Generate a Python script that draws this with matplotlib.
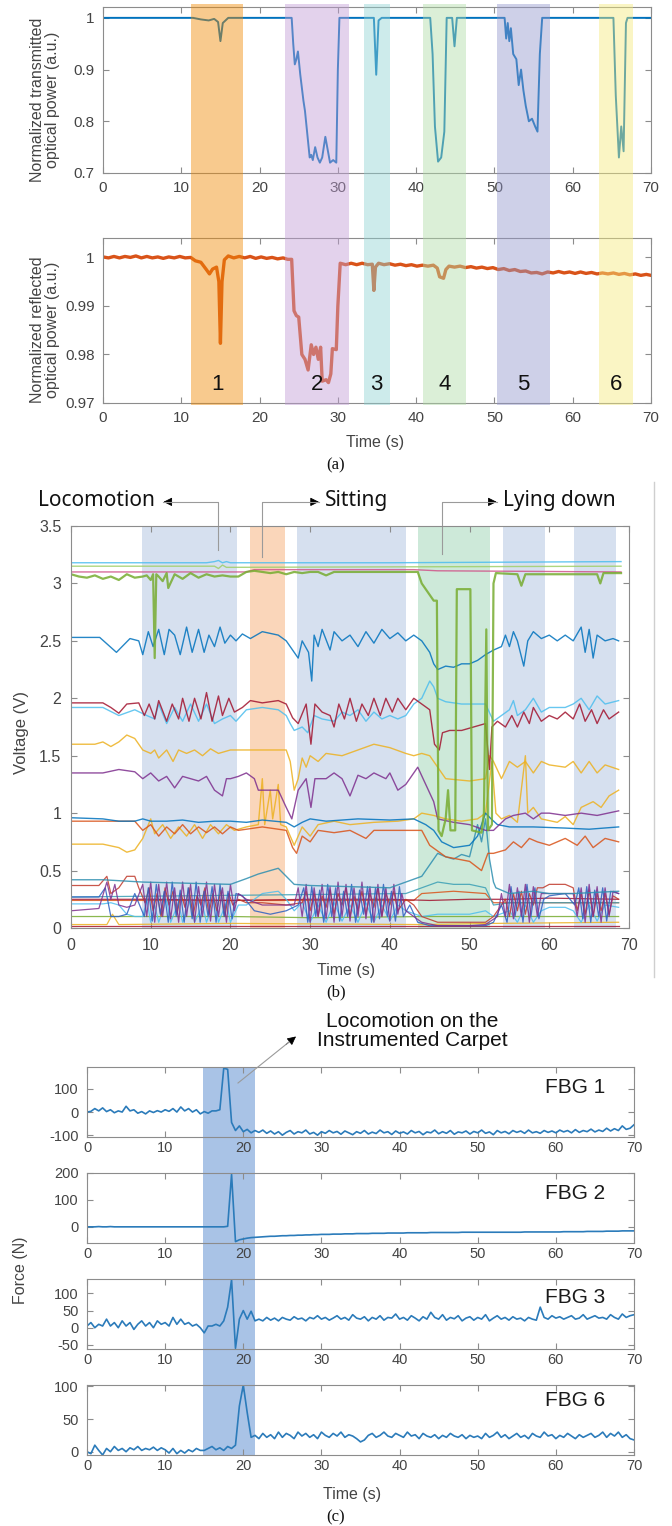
import numpy as np
import matplotlib
matplotlib.use('Agg')
import matplotlib.pyplot as plt
from matplotlib.lines import Line2D
from matplotlib.patches import Rectangle, FancyArrowPatch
from matplotlib.ticker import FuncFormatter
import matplotlib.transforms as mtrans

# ---------------- panel (a) data ----------------
a_bands = [(11.3, 17.9), (23.3, 31.4), (33.3, 36.6), (40.9, 46.4), (50.3, 57.1), (63.4, 67.7)]
a_band_colors = ['#F08B04', '#C19DD5', '#90D3D3', '#B1DCA8', '#9497CC', '#F5EB7C']
a_band_labels = ['1', '2', '3', '4', '5', '6']

trans_time = [0, 11.5, 12.5, 13.5, 14.2, 14.7, 15.0, 15.3, 16.0,
              24.1, 24.3, 24.5, 24.7, 24.9, 25.2, 25.6, 25.8, 26.2, 26.4, 26.6, 26.8, 27.1, 27.4,
              27.7, 28.0, 28.4, 28.7, 29.0, 29.4, 29.8, 30.0, 30.2,
              34.6, 34.9, 35.2, 35.6, 41.8, 42.1, 42.4, 42.8, 43.2, 43.6, 43.9, 44.6, 44.9, 45.2,
              51.3, 51.5, 51.7, 51.9, 52.1, 52.4, 52.8, 53.1, 53.4, 53.7, 54.0, 54.4, 54.8, 55.2,
              55.5, 55.8, 56.1, 65.2, 65.5, 65.9, 66.2, 66.5, 66.8, 67.0, 70]
trans_power = [1.0, 1.0, 0.997, 0.995, 0.998, 0.992, 0.955, 0.99, 1.0,
               1.0, 0.95, 0.91, 0.92, 0.935, 0.89, 0.84, 0.82, 0.76, 0.73, 0.735, 0.725, 0.75, 0.73,
               0.72, 0.73, 0.77, 0.745, 0.72, 0.725, 0.72, 0.90, 1.0,
               1.0, 0.89, 0.995, 1.0, 1.0, 0.93, 0.79, 0.722, 0.73, 0.78, 1.0, 1.0, 0.945, 1.0,
               1.0, 0.96, 0.99, 0.955, 0.98, 0.93, 0.92, 0.87, 0.90, 0.86, 0.83, 0.80, 0.805, 0.79,
               0.78, 0.93, 1.0, 1.0, 0.85, 0.73, 0.79, 0.742, 0.99, 1.0, 1.0]

refl_time = [0, 0.7, 1.4, 2.1, 2.8, 3.5, 4.2, 4.9, 5.6, 6.3, 7.0, 7.7, 8.4, 9.1, 9.8, 10.5, 11.2,
             11.8, 12.5, 13.2, 13.6, 14.0, 14.5, 14.8, 15.0, 15.2, 15.5, 16.0, 16.7, 17.4, 18.1,
             18.8, 19.5, 20.2, 20.9, 21.6, 22.3, 23.0, 23.6, 24.1, 24.4, 24.7, 25.0, 25.4, 25.8,
             26.2, 26.6, 26.9, 27.2, 27.5, 27.8, 28.0, 28.5, 28.8, 29.1, 29.3, 29.8, 30.0, 30.3,
             31.0, 31.7, 32.4, 33.1, 33.8, 34.4, 34.6, 34.8, 35.2, 35.9, 36.6, 37.3, 38.0, 38.7,
             39.4, 40.1, 40.8, 41.5, 42.2, 42.7, 43.0, 43.5, 43.8, 44.2, 44.9, 45.6, 46.3, 47.0,
             47.7, 48.4, 49.1, 49.8, 50.5, 51.2, 51.9, 52.6, 53.3, 54.0, 54.7, 55.4, 56.1, 56.8,
             57.5, 58.2, 58.9, 59.6, 60.3, 61.0, 61.7, 62.4, 63.1, 63.8, 64.5, 65.2, 65.9, 66.6,
             67.3, 68.0, 68.7, 69.4, 70]
refl_power = [1.0001, 0.9999, 1.0002, 0.9999, 1.0002, 1.0000, 1.0003, 0.9999, 1.0002, 0.9999,
              1.0001, 0.9998, 1.0001, 0.9999, 1.0002, 0.9999, 1.0000,
              0.9993, 0.9990, 0.9975, 0.9966, 0.9976, 0.9980, 0.9950, 0.9823, 0.9950, 0.9995,
              1.0003, 0.9999, 1.0002, 0.9999, 1.0002, 0.9998, 1.0001, 0.9998, 1.0000, 0.9997,
              0.9999, 0.9996, 0.9996, 0.9890, 0.9880, 0.9877, 0.9800, 0.9790, 0.9768, 0.9820,
              0.9800, 0.9815, 0.9790, 0.9815, 0.9745, 0.9748, 0.9742, 0.9760, 0.9812, 0.9810,
              0.9900, 0.9988, 0.9985, 0.9988, 0.9985, 0.9988, 0.9985, 0.9986, 0.9932, 0.9980,
              0.9988, 0.9985, 0.9987, 0.9984, 0.9986, 0.9983, 0.9985, 0.9982, 0.9984, 0.9982,
              0.9984, 0.9978, 0.9960, 0.9957, 0.9975, 0.9982, 0.9980, 0.9982, 0.9979, 0.9981,
              0.9978, 0.9980, 0.9977, 0.9979, 0.9975, 0.9977, 0.9973, 0.9975, 0.9971, 0.9972,
              0.9968, 0.9969, 0.9966, 0.9970, 0.9968, 0.9971, 0.9968, 0.9970, 0.9967, 0.9970,
              0.9967, 0.9969, 0.9966, 0.9968, 0.9966, 0.9968, 0.9965, 0.9967, 0.9964, 0.9966,
              0.9963, 0.9965, 0.9963]

# ---------------- panel (b) data ----------------
b_bands = [(8.9, 20.8), (22.4, 26.8), (28.4, 42.0), (43.5, 52.6), (54.2, 59.4), (63.1, 68.4)]
b_band_colors = ['#d6e0ef', '#fad6ba', '#d6e0ef', '#cde9d9', '#d6e0ef', '#d6e0ef']

cyan_top_t = [0, 17, 18, 18.5, 19, 19.5, 20, 40, 69]
cyan_top_v = [3.18, 3.18, 3.19, 3.2, 3.18, 3.19, 3.18, 3.18, 3.19]
green_top_t = [0, 18, 18.5, 19, 19.5, 69]
green_top_v = [3.15, 3.15, 3.13, 3.16, 3.14, 3.15]
pink_top_t = [0, 22, 23, 43, 46, 69]
pink_top_v = [3.1, 3.1, 3.12, 3.12, 3.11, 3.1]

green_t = [0, 1, 2, 3, 4, 5, 6, 7, 8, 9, 9.5, 10, 10.3, 10.5, 10.7, 11, 11.5, 12, 12.2, 13, 14,
           15, 16, 17, 18, 19, 20, 21, 22, 23, 24, 25, 26, 27, 28, 29, 30, 31, 32, 33, 34, 36,
           38, 40, 43.5, 44, 44.5, 45.5, 45.9, 46.1, 46.5, 47, 47.3, 47.6, 48.2, 48.4, 50.1,
           50.3, 51.5, 51.8, 52.1, 52.3, 52.8, 53.0, 53.3, 56, 56.5, 57, 66, 66.4, 66.8, 69]
green_v = [3.08, 3.06, 3.05, 3.07, 3.04, 3.06, 3.03, 3.08, 3.05, 3.06, 3.07, 3.03, 3.08, 2.35,
           3.08, 3.06, 3.02, 3.09, 2.96, 3.08, 3.04, 3.09, 3.05, 3.08, 3.06, 3.07, 3.06, 3.06,
           3.1, 3.11, 3.1, 3.09, 3.1, 3.08, 3.1, 3.09, 3.1, 3.1, 3.07, 3.1, 3.1, 3.1, 3.1,
           3.1, 3.1, 3.0, 2.95, 2.85, 2.85, 0.85, 0.8, 0.95, 1.2, 0.85, 0.85, 2.95, 2.95, 0.85,
           0.83, 1.0, 2.6, 0.85, 0.9, 3.0, 3.09, 3.08, 2.98, 3.08, 3.08, 3.0, 3.09, 3.09]

blue25_t = [0, 3.6, 5.7, 7.4, 8.5, 9, 9.7, 10.3, 11, 11.7, 12.3, 13, 13.7, 14.5, 15.2, 16, 16.7,
            17.3, 18, 18.7, 19.3, 20, 20.7, 21.5, 22.5, 24, 26, 27, 28, 28.5, 29, 29.8, 30.2,
            30.5, 31, 31.5, 32.5, 33, 34, 35, 36, 37, 38, 39, 40, 41, 42, 43, 44, 45, 45.5, 46,
            47, 48, 49, 50, 51, 52, 53, 54, 54.5, 55, 55.5, 56, 56.8, 57.3, 58, 59, 60, 61, 62,
            63, 64, 64.5, 65, 65.5, 66, 67, 68, 68.7]
blue25_v = [2.53, 2.53, 2.40, 2.52, 2.5, 2.38, 2.58, 2.45, 2.6, 2.38, 2.6, 2.55, 2.38, 2.62,
            2.4, 2.6, 2.4, 2.55, 2.45, 2.62, 2.48, 2.55, 2.5, 2.56, 2.52, 2.58, 2.55, 2.5, 2.4,
            2.35, 2.5, 2.4, 2.15, 2.55, 2.45, 2.6, 2.42, 2.58, 2.5, 2.55, 2.45, 2.58, 2.48, 2.6,
            2.52, 2.57, 2.5, 2.55, 2.5, 2.4, 2.3, 2.25, 2.28, 2.27, 2.3, 2.3, 2.33, 2.38, 2.42,
            2.45, 2.55, 2.45, 2.58, 2.5, 2.28, 2.5, 2.58, 2.52, 2.55, 2.5, 2.55, 2.5, 2.62, 2.4,
            2.6, 2.35, 2.55, 2.5, 2.52, 2.5]

red19_t = [0, 4, 5, 6, 7, 8.5, 9.2, 9.8, 10.5, 11, 12, 12.7, 13.5, 14, 14.8, 15.5, 16.3, 17,
           17.7, 18.5, 19, 19.8, 20.5, 21.5, 22.5, 24, 26, 27, 27.8, 28.5, 29.5, 30.1, 30.6,
           31.5, 32.5, 33, 33.6, 34.3, 35, 35.8, 36.5, 37.3, 38, 38.8, 39.5, 40.3, 41, 42, 43,
           44, 45, 45.6, 46.2, 46.6, 47.5, 49, 50.5, 52, 52.5, 52.8, 53.5, 54.5, 55.3, 56, 56.8,
           57.5, 58, 59, 60, 61, 62, 63, 63.8, 64.5, 65.3, 66, 66.8, 67.5, 68.7]
red19_v = [1.96, 1.96, 1.92, 1.87, 1.95, 1.96, 1.85, 1.95, 1.82, 1.98, 1.8, 1.95, 1.82, 2.0,
           1.8, 2.0, 1.82, 2.05, 1.8, 2.02, 1.85, 2.0, 1.88, 1.92, 1.98, 1.96, 1.98, 1.95, 1.83,
           1.78, 1.95, 1.6, 1.95, 1.88, 1.85, 1.75, 1.95, 1.82, 2.0, 1.8, 1.95, 1.85, 2.0, 1.85,
           2.0, 1.88, 2.0, 1.9, 2.0, 1.95, 1.9, 1.6, 1.55, 1.7, 1.72, 1.72, 1.75, 1.78, 1.38,
           1.75, 1.8, 1.75, 1.85, 1.75, 1.88, 1.78, 1.92, 1.8, 1.85, 1.82, 1.88, 1.82, 1.95,
           1.8, 1.9, 1.78, 1.9, 1.82, 1.88]

cyan19_t = [0, 4, 6, 8, 9.5, 10.5, 11, 12, 13, 14, 15, 16, 17, 18, 19, 20, 20.7, 22, 24, 26,
            27, 27.5, 28, 29, 29.7, 30.5, 31.5, 33, 34, 35, 36, 37, 38, 39, 40, 41, 42, 43, 44,
            45, 45.5, 46, 47, 49, 51, 52, 53, 54, 55, 55.5, 56, 57, 58, 59, 60, 62, 63, 64, 65,
            66, 67, 68.7]
cyan19_v = [1.92, 1.92, 1.85, 1.9, 1.85, 1.82, 1.95, 1.78, 1.92, 1.8, 1.95, 1.8, 1.95, 1.78,
            1.82, 1.85, 1.8, 1.9, 1.92, 1.9, 1.85, 1.78, 1.72, 1.75, 1.7, 1.85, 1.82, 1.8, 1.88,
            1.85, 1.9, 1.8, 1.88, 1.82, 1.85, 1.82, 1.85, 1.95, 2.0, 2.15, 2.1, 2.0, 1.97, 1.95,
            1.95, 1.95, 1.8, 1.85, 1.9, 1.98, 1.85, 1.9, 2.0, 1.88, 1.92, 1.92, 1.95, 2.0, 1.9,
            2.02, 1.95, 1.98]

yellow16_t = [0, 3, 4, 5, 6, 7, 8, 9, 10, 10.5, 11, 12, 12.8, 13.5, 14.5, 15.5, 16.5, 17.5,
              18.5, 20, 22, 25, 27, 27.5, 28, 28.5, 29, 29.5, 30, 31, 32, 34, 36, 38, 40, 42,
              43, 44, 45, 46, 47, 50, 52, 52.5, 53, 54, 55, 56, 57, 58, 59, 60, 62, 63, 64, 65,
              66, 67, 68.7]
yellow16_v = [1.6, 1.6, 1.62, 1.58, 1.62, 1.68, 1.65, 1.55, 1.52, 1.55, 1.48, 1.55, 1.45, 1.55,
              1.52, 1.55, 1.5, 1.56, 1.52, 1.55, 1.55, 1.55, 1.55, 1.45, 1.2, 1.3, 1.48, 1.4,
              1.5, 1.45, 1.52, 1.5, 1.55, 1.6, 1.57, 1.52, 1.5, 1.52, 1.5, 1.4, 1.3, 1.28, 1.3,
              1.5, 1.45, 1.3, 1.45, 1.4, 1.45, 1.35, 1.45, 1.42, 1.4, 1.45, 1.35, 1.45, 1.35,
              1.42, 1.38]

purple13_t = [0, 4, 6, 8, 9, 10, 11, 12, 13, 14, 15, 16, 17, 18, 19, 19.5, 20, 21, 22, 23,
              23.5, 26, 27, 27.7, 28.5, 29.5, 30.1, 30.6, 32, 33, 34, 35, 36, 37, 38, 39.5, 40,
              41, 42, 43, 43.5, 44.5, 45.5, 46, 48, 50, 52, 53, 54.5, 55.5, 57, 58, 59, 60, 62,
              64, 66, 68.7]
purple13_v = [1.35, 1.35, 1.38, 1.36, 1.3, 1.35, 1.28, 1.32, 1.22, 1.32, 1.3, 1.28, 1.32, 1.2,
              1.15, 1.3, 1.3, 1.32, 1.35, 1.3, 1.2, 1.2, 1.05, 0.95, 1.2, 1.3, 1.05, 1.3, 1.3,
              1.35, 1.3, 1.15, 1.33, 1.3, 1.35, 1.3, 1.35, 1.2, 1.25, 1.35, 1.4, 1.25, 1.1, 0.95,
              0.92, 0.9, 0.85, 0.85, 0.95, 0.98, 1.0, 0.95, 1.0, 1.0, 0.98, 1.0, 0.98, 1.02]

blue09_t = [0, 4, 6, 8, 9, 10, 12, 14, 16, 18, 20, 22, 24, 27, 28, 29, 30, 32, 36, 40, 43,
            44.5, 45.5, 46.5, 48, 50, 51, 52, 52.7, 53.5, 55, 58, 62, 65, 68.7]
blue09_v = [0.96, 0.95, 0.93, 0.93, 0.95, 0.93, 0.93, 0.94, 0.92, 0.93, 0.93, 0.92, 0.94, 0.92,
            0.88, 0.92, 0.95, 0.93, 0.95, 0.94, 0.95, 0.9, 0.85, 0.75, 0.7, 0.72, 0.8, 1.0,
            0.95, 0.9, 0.88, 0.88, 0.87, 0.86, 0.88]

orange09_t = [0, 8, 9, 10, 11, 12, 13, 14, 15, 16, 17, 18, 19, 20, 21, 24, 27, 27.8, 28.3, 29,
              30, 31, 33, 35, 37, 38, 40, 42, 44, 45, 47, 50, 51.5, 52.3, 53, 54.5, 55.5, 56.5,
              57.5, 58.5, 60, 62, 63.5, 64.5, 65.5, 67, 68.7]
orange09_v = [0.93, 0.93, 0.85, 0.9, 0.8, 0.88, 0.82, 0.9, 0.82, 0.88, 0.83, 0.88, 0.82, 0.88,
              0.85, 0.88, 0.85, 0.7, 0.65, 0.8, 0.75, 0.85, 0.83, 0.85, 0.78, 0.85, 0.85, 0.85,
              0.85, 0.72, 0.62, 0.58, 0.5, 0.65, 0.65, 0.68, 0.75, 0.7, 0.78, 0.75, 0.72, 0.78,
              0.72, 0.8, 0.7, 0.78, 0.75]

yellow07_t = [0, 4, 6, 7, 8, 9, 10, 10.5, 11.5, 12.5, 13.5, 14.5, 15.5, 16.5, 17.5, 18.5,
              19.5, 20.5, 22, 23.5, 24, 24.3, 25, 25.3, 26, 26.3, 27, 28, 29, 30, 31, 33, 35,
              38, 41, 43, 44, 45.5, 47, 49, 51, 52, 52.8, 53.3, 54, 55, 56, 57, 57.3, 58, 59,
              61, 62, 63, 64, 65.5, 66.5, 67.5, 68.7]
yellow07_v = [0.73, 0.73, 0.7, 0.66, 0.68, 0.78, 0.95, 0.82, 0.9, 0.78, 0.88, 0.8, 0.9, 0.78,
              0.9, 0.82, 0.9, 0.85, 0.88, 0.9, 1.3, 0.9, 1.2, 0.95, 1.25, 0.9, 0.88, 0.72, 0.88,
              0.8, 0.9, 0.93, 0.9, 0.92, 0.93, 0.95, 1.0, 0.98, 0.95, 0.93, 0.95, 1.0, 1.45, 1.0,
              0.95, 0.98, 0.92, 1.5, 1.0, 1.05, 0.95, 0.92, 0.97, 0.9, 1.05, 1.1, 1.05, 1.15, 1.2]

teal04_t = [0, 4, 9, 20, 22, 23.5, 25, 26, 27, 28, 30, 40, 42, 44, 45, 46, 47, 48, 49, 50, 51,
            51.5, 52, 52.5, 53, 53.3, 55, 58, 60, 63, 68.7]
teal04_v = [0.42, 0.42, 0.4, 0.38, 0.43, 0.47, 0.5, 0.52, 0.45, 0.38, 0.37, 0.35, 0.4, 0.45,
            0.55, 0.65, 0.62, 0.6, 0.64, 0.62, 0.9, 0.75, 0.95, 0.6, 0.4, 0.35, 0.3, 0.32, 0.3,
            0.3, 0.32]
teal03_t = [0, 42, 44, 46, 48, 50, 52, 53, 55, 68.7]
teal03_v = [0.27, 0.3, 0.35, 0.4, 0.38, 0.38, 0.35, 0.2, 0.22, 0.22]
red025_t = [0, 10, 20, 30, 40, 45, 50, 55, 60, 68.7]
red025_v = [0.25, 0.25, 0.24, 0.25, 0.25, 0.24, 0.25, 0.25, 0.26, 0.25]
brown03_t = [0, 43, 44, 48, 52, 53, 68.7]
brown03_v = [0.24, 0.24, 0.3, 0.32, 0.3, 0.22, 0.22]

purple_osc_t = [0, 3.5, 4.5, 5, 5.5, 6, 7, 8, 9, 9.5, 10, 10.5, 11, 11.5, 12, 12.5, 13, 13.5,
                14, 14.5, 15, 15.5, 16, 16.5, 17, 17.5, 18, 18.5, 19, 19.5, 20, 20.5, 21, 22,
                24, 26, 28, 28.5, 29, 29.5, 30, 30.5, 31, 31.5, 32, 32.5, 33, 33.5, 34, 34.5,
                35, 35.5, 36, 36.5, 37, 37.5, 38, 38.5, 39, 39.5, 40, 40.5, 41, 41.5, 42, 43,
                44, 46, 50, 52, 53.5, 54, 54.5, 55, 55.5, 56, 56.5, 57, 57.5, 58, 58.5, 59, 60,
                62, 63, 63.5, 64, 64.5, 65, 65.5, 66, 66.5, 67, 67.5, 68, 68.7]
purple_osc_v = [0.15, 0.17, 0.4, 0.25, 0.38, 0.2, 0.18, 0.2, 0.38, 0.1, 0.4, 0.05, 0.38, 0.1,
                0.4, 0.08, 0.35, 0.05, 0.4, 0.1, 0.38, 0.05, 0.36, 0.1, 0.4, 0.06, 0.38, 0.1,
                0.35, 0.05, 0.38, 0.15, 0.3, 0.25, 0.2, 0.2, 0.2, 0.35, 0.1, 0.38, 0.05, 0.35,
                0.1, 0.38, 0.08, 0.36, 0.05, 0.4, 0.1, 0.38, 0.06, 0.35, 0.1, 0.4, 0.08, 0.36,
                0.05, 0.38, 0.1, 0.35, 0.06, 0.38, 0.12, 0.3, 0.15, 0.1, 0.05, 0.02, 0.02, 0.03,
                0.1, 0.3, 0.1, 0.38, 0.08, 0.35, 0.1, 0.38, 0.05, 0.36, 0.1, 0.3, 0.3, 0.3, 0.3,
                0.1, 0.35, 0.05, 0.38, 0.1, 0.36, 0.05, 0.35, 0.1, 0.32, 0.3]

blue_osc_t = [0, 3.5, 4.3, 5, 6, 7, 8, 9.2, 9.7, 10.2, 10.7, 11.2, 11.7, 12.2, 12.7, 13.2,
              13.7, 14.2, 14.7, 15.2, 15.7, 16.2, 16.7, 17.2, 17.7, 18.2, 18.7, 19.2, 19.7,
              20.2, 20.7, 21.5, 23, 25, 27, 28.5, 29.2, 29.7, 30.2, 30.7, 31.2, 31.7, 32.2,
              32.7, 33.2, 33.7, 34.2, 34.7, 35.2, 35.7, 36.2, 36.7, 37.2, 37.7, 38.2, 38.7,
              39.2, 39.7, 40.2, 40.7, 41.2, 41.7, 42.5, 43.5, 45, 52, 53, 54, 54.7, 55.2, 55.7,
              56.2, 56.7, 57.2, 57.7, 58.2, 58.7, 59.3, 60, 62, 63.2, 63.7, 64.2, 64.7, 65.2,
              65.7, 66.2, 66.7, 67.2, 67.7, 68.7]
blue_osc_v = [0.27, 0.27, 0.35, 0.1, 0.1, 0.12, 0.3, 0.1, 0.35, 0.06, 0.38, 0.12, 0.32, 0.05,
              0.4, 0.1, 0.33, 0.05, 0.35, 0.08, 0.4, 0.05, 0.32, 0.1, 0.36, 0.05, 0.38, 0.1,
              0.32, 0.08, 0.3, 0.28, 0.15, 0.12, 0.15, 0.2, 0.35, 0.05, 0.36, 0.1, 0.33, 0.05,
              0.38, 0.1, 0.35, 0.06, 0.32, 0.1, 0.38, 0.05, 0.33, 0.12, 0.36, 0.05, 0.35, 0.08,
              0.38, 0.1, 0.32, 0.06, 0.36, 0.1, 0.2, 0.05, 0.02, 0.02, 0.05, 0.2, 0.05, 0.36,
              0.1, 0.32, 0.05, 0.38, 0.1, 0.35, 0.08, 0.25, 0.28, 0.3, 0.2, 0.35, 0.08, 0.36,
              0.05, 0.33, 0.1, 0.35, 0.06, 0.32, 0.3]

red_osc_t = [0, 3.5, 4.5, 5, 6, 7, 8, 8.5, 9.3, 9.8, 10.3, 10.8, 11.3, 11.8, 12.3, 12.8, 13.3,
             13.8, 14.3, 14.8, 15.3, 15.8, 16.3, 16.8, 17.3, 17.8, 18.3, 18.8, 19.3, 19.8,
             20.3, 21, 22, 24, 27, 29, 29.5, 30, 30.5, 31, 31.5, 32, 32.5, 33, 33.5, 34, 34.5,
             35, 35.5, 36, 36.5, 37, 37.5, 38, 38.5, 39, 39.5, 40, 40.5, 41, 42, 43, 44, 46,
             52, 53, 54.5, 55, 55.5, 56, 56.5, 57, 57.5, 58, 58.5, 59.2, 60, 62, 63, 63.5, 64,
             64.5, 65, 65.5, 66, 66.5, 67, 67.5, 68, 68.7]
red_osc_v = [0.37, 0.37, 0.45, 0.3, 0.35, 0.45, 0.45, 0.35, 0.22, 0.35, 0.15, 0.3, 0.1, 0.35,
             0.2, 0.32, 0.12, 0.3, 0.18, 0.35, 0.1, 0.28, 0.2, 0.35, 0.12, 0.3, 0.15, 0.33, 0.1,
             0.3, 0.2, 0.25, 0.22, 0.22, 0.2, 0.22, 0.32, 0.15, 0.3, 0.1, 0.28, 0.18, 0.33, 0.12,
             0.3, 0.2, 0.35, 0.1, 0.28, 0.15, 0.32, 0.12, 0.3, 0.18, 0.35, 0.1, 0.3, 0.2, 0.32,
             0.15, 0.25, 0.2, 0.1, 0.05, 0.05, 0.1, 0.25, 0.1, 0.3, 0.15, 0.32, 0.12, 0.3, 0.2,
             0.35, 0.35, 0.38, 0.38, 0.35, 0.15, 0.3, 0.12, 0.33, 0.1, 0.3, 0.15, 0.3, 0.12,
             0.28, 0.25]

cyan_osc_t = [0, 4, 5, 6, 7, 8, 9, 9.5, 10, 10.5, 11, 12, 12.5, 13.5, 14, 15, 15.5, 16.5, 17,
              18, 18.5, 19.5, 20, 21, 22, 24, 26, 27, 28, 29, 30, 31, 32, 33, 34, 35, 36, 37,
              38, 39, 40, 41, 42, 44, 46, 50, 52, 53, 55, 56, 57, 58, 59, 60, 62, 63, 64, 65,
              66, 67, 68.7]
cyan_osc_v = [0.21, 0.21, 0.22, 0.2, 0.12, 0.1, 0.1, 0.25, 0.05, 0.2, 0.05, 0.25, 0.05, 0.22,
              0.05, 0.25, 0.05, 0.2, 0.05, 0.25, 0.05, 0.22, 0.05, 0.2, 0.2, 0.3, 0.32, 0.25,
              0.15, 0.22, 0.05, 0.2, 0.05, 0.22, 0.06, 0.2, 0.05, 0.22, 0.05, 0.2, 0.06, 0.2,
              0.15, 0.1, 0.12, 0.12, 0.15, 0.1, 0.15, 0.05, 0.2, 0.05, 0.15, 0.18, 0.18, 0.15,
              0.05, 0.2, 0.06, 0.2, 0.18]

green01_t = [0, 20, 30, 45, 53, 68.7]
green01_v = [0.1, 0.1, 0.09, 0.1, 0.1, 0.1]
yellow005_t = [0, 4.5, 5.2, 6, 20, 44, 53, 68.7]
yellow005_v = [0.03, 0.03, 0.12, 0.03, 0.04, 0.03, 0.04, 0.05]
red002_t = [0, 68.7]
red002_v = [0.02, 0.02]

# ---------------- panel (c) data (one value every 0.5 s, 0..70 s) ----------------
fbg1 = [0, 3, 15, 5, 18, 2, 10, -3, 5, 0,
        25, 5, 10, -5, 2, -8, 5, -2, 6, 0,
        10, 3, 15, 0, 22, 5, 15, 0, 10, -8,
        2, -5, 5, 5, 10, 190, 185, -45, -80, -60,
        -85, -75, -90, -80, -88, -78, -92, -82, -95, -85,
        -100, -88, -80, -95, -85, -90, -78, -95, -88, -100,
        -85, -92, -80, -90, -84, -96, -82, -90, -98, -85,
        -92, -80, -95, -87, -93, -78, -90, -85, -97, -82,
        -92, -86, -95, -80, -90, -84, -98, -86, -90, -78,
        -94, -85, -92, -80, -96, -86, -90, -82, -95, -84,
        -90, -78, -92, -86, -98, -80, -90, -84, -94, -80,
        -88, -82, -92, -78, -90, -85, -92, -80, -88, -82,
        -90, -78, -86, -80, -90, -76, -88, -80, -85, -74,
        -86, -78, -84, -70, -82, -72, -80, -60, -75, -70,
        -55]
fbg2 = [0, 0, 0, 1, 0, 0, 1, 0, 0, 0,
        0, 0, 0, 0, 0, 0, 0, 0, 0, 0,
        0, 0, 0, 0, 0, 0, 0, 0, 0, 0,
        0, 0, 0, 0, 0, 0, 2, 195, -55, -48,
        -45, -42, -40, -39, -38, -37, -36, -35, -35, -34,
        -33, -33, -32, -32, -31, -31, -30, -30, -29, -29,
        -28, -28, -28, -27, -27, -27, -26, -26, -26, -25,
        -25, -25, -25, -24, -24, -24, -24, -23, -23, -23,
        -23, -23, -22, -22, -22, -22, -22, -22, -21, -21,
        -21, -21, -21, -21, -21, -21, -20, -20, -20, -20,
        -20, -20, -20, -20, -20, -20, -20, -20, -20, -20,
        -20, -20, -19, -19, -19, -19, -19, -19, -19, -19,
        -19, -19, -18, -18, -18, -18, -18, -18, -17, -17,
        -17, -17, -17, -16, -16, -16, -16, -15, -15, -15,
        -15]
fbg3 = [5, 15, 0, 10, 5, 25, 5, 15, 0, 20,
        5, 15, -5, 10, 20, 5, 15, 0, 20, 10,
        15, 5, 30, 10, 25, 10, 15, 5, 10, 0,
        -15, 5, 5, 10, 5, 20, 60, 140, -60, 25,
        50, 25, 48, 20, 25, 20, 30, 22, 28, 20,
        30, 25, 22, 32, 25, 28, 20, 30, 26, 35,
        25, 30, 22, 28, 35, 25, 30, 22, 38, 28,
        25, 32, 20, 30, 25, 35, 22, 30, 28, 40,
        25, 30, 22, 35, 28, 20, 32, 25, 45, 30,
        25, 38, 22, 30, 26, 35, 20, 28, 32, 22,
        30, 25, 38, 20, 28, 35, 25, 30, 22, 32,
        25, 28, 20, 30, 25, 22, 60, 30, 25, 35,
        28, 32, 25, 30, 35, 25, 28, 38, 25, 30,
        35, 28, 30, 25, 38, 30, 25, 40, 30, 35,
        38]
fbg6 = [0, -3, 10, 2, -5, 5, 0, 8, 2, 5,
        0, 6, 3, 8, 2, 5, 3, 7, 2, 6,
        3, -2, 5, -3, 2, -2, 3, 0, 5, 2,
        2, 5, 8, 3, 6, 2, 8, 5, 10, 70,
        102, 60, 22, 25, 20, 28, 22, 26, 20, 30,
        22, 28, 25, 20, 30, 24, 28, 22, 26, 20,
        30, 25, 22, 28, 24, 30, 22, 26, 24, 20,
        15, 18, 25, 28, 22, 25, 30, 24, 22, 28,
        25, 22, 30, 24, 26, 20, 28, 24, 22, 26,
        20, 25, 22, 28, 24, 22, 26, 20, 25, 22,
        24, 20, 28, 22, 25, 30, 22, 26, 20, 24,
        28, 22, 25, 20, 28, 24, 22, 30, 24, 26,
        20, 25, 22, 28, 24, 20, 26, 22, 25, 28,
        22, 25, 30, 22, 28, 24, 30, 22, 26, 20,
        18]
fbg_names = ['FBG 1', 'FBG 2', 'FBG 3', 'FBG 6']
fbg_ylims = [(-108, 195), (-60, 200), (-62, 142), (-5, 102)]
fbg_yticks = [[-100, 0, 100], [0, 100, 200], [-50, 0, 50, 100], [0, 50, 100]]
c_band = (14.8, 21.5)

# ---------------- figure ----------------
W, H = 672, 1526
plt.rcParams['font.family'] = ['Liberation Sans', 'DejaVu Sans']
plt.rcParams['axes.unicode_minus'] = False
fig = plt.figure(figsize=(W / 100, H / 100), dpi=100)

TICK = '#8c8c8c'
LAB = '#444444'


def fx(px):
    return px / W


def fy(py):
    return 1 - py / H


def box(l, t, r, b):
    return [fx(l), fy(b), (r - l) / W, (b - t) / H]


def style(ax, fs, pad=6):
    for s in ax.spines.values():
        s.set_color(TICK)
        s.set_linewidth(0.8)
    ax.tick_params(direction='in', top=True, right=True, labelsize=fs, color=TICK,
                   labelcolor=LAB, length=4, width=0.8, pad=pad)
    ax.yaxis.set_major_formatter(FuncFormatter(lambda v, p: f'{v:g}'))


# ---- (a) ----
ax_t = fig.add_axes(box(103, 7, 651, 173))
ax_r = fig.add_axes(box(103, 238, 651, 403))
ax_t.plot(trans_time, trans_power, color='#0072BD', lw=1.4)
ax_r.plot(refl_time, refl_power, color='#D95319', lw=2.4, solid_joinstyle='round')
ax_t.set_ylim(0.7, 1.021)
ax_t.set_yticks([0.7, 0.8, 0.9, 1.0])
ax_r.set_ylim(0.97, 1.004)
ax_r.set_yticks([0.97, 0.98, 0.99, 1.0])
for ax in (ax_t, ax_r):
    ax.set_xlim(0, 70)
    ax.set_xticks(range(0, 71, 10))
    style(ax, 11)

tr = mtrans.blended_transform_factory(ax_t.transData, fig.transFigure)
for (x0, x1), c in zip(a_bands, a_band_colors):
    fig.patches.append(Rectangle((x0, fy(405)), x1 - x0, fy(4) - fy(405), transform=tr,
                                 facecolor=c, edgecolor='none', alpha=0.45, zorder=2))
for (x0, x1), s in zip(a_bands, a_band_labels):
    fig.text((x0 + x1) / 2, 0.9738, s, transform=ax_r.transData, ha='center', va='center',
             fontsize=16, color='#111111', zorder=5)

fig.text(fx(45), fy(100), 'Normalized transmitted\noptical power (a.u.)', rotation=90,
         ha='center', va='center', fontsize=11.5, color=LAB, linespacing=1.05)
fig.text(fx(45), fy(330), 'Normalized reflected\noptical power (a.u.)', rotation=90,
         ha='center', va='center', fontsize=11.5, color=LAB, linespacing=1.05)
fig.text(fx(375), fy(442), 'Time (s)', ha='center', va='center', fontsize=11.5, color=LAB)
fig.text(0.5, fy(465), '(a)', ha='center', va='center', fontsize=12,
         family='Liberation Serif', color='#111111')

# ---- (b) ----
ax_b = fig.add_axes(box(71, 526, 629, 928))
for (x0, x1), c in zip(b_bands, b_band_colors):
    ax_b.axvspan(x0, x1, color=c, lw=0, zorder=0)

b_lines = [
    (red002_t, red002_v, '#A2142F', 0.9),
    (yellow005_t, yellow005_v, '#EDB120', 0.9),
    (green01_t, green01_v, '#77AC30', 0.9),
    (brown03_t, brown03_v, '#D95319', 0.9),
    (red025_t, red025_v, '#A2142F', 0.9),
    (cyan_osc_t, cyan_osc_v, '#4DBEEE', 0.9),
    (teal03_t, teal03_v, '#3a9fb5', 0.9),
    (red_osc_t, red_osc_v, '#C0392B', 0.9),
    (blue_osc_t, blue_osc_v, '#2c5fbf', 0.9),
    (purple_osc_t, purple_osc_v, '#7E2F8E', 0.9),
    (teal04_t, teal04_v, '#2e8fb0', 1.0),
    (yellow07_t, yellow07_v, '#EDB120', 1.0),
    (orange09_t, orange09_v, '#D95319', 1.0),
    (blue09_t, blue09_v, '#0072BD', 1.0),
    (purple13_t, purple13_v, '#7E2F8E', 1.0),
    (yellow16_t, yellow16_v, '#EDB120', 1.0),
    (cyan19_t, cyan19_v, '#4DBEEE', 1.0),
    (red19_t, red19_v, '#A2142F', 1.0),
    (blue25_t, blue25_v, '#0072BD', 1.0),
    (pink_top_t, pink_top_v, '#d0558a', 1.0),
    (green_top_t, green_top_v, '#9fcf6a', 1.0),
    (cyan_top_t, cyan_top_v, '#4DBEEE', 1.0),
    (green_t, green_v, '#77AC30', 1.6),
]
for t, v, c, lw in b_lines:
    ax_b.plot(t, v, color=c, lw=lw, alpha=0.85, zorder=2)

ax_b.set_xlim(0, 70)
ax_b.set_ylim(0, 3.5)
ax_b.set_xticks(range(0, 71, 10))
ax_b.set_yticks(np.arange(0, 3.51, 0.5))
style(ax_b, 11.5, pad=7)

# bracket arrows above panel (b)
ARR = '#9a9a9a'
ann_font = ['Noto Sans', 'DejaVu Sans']
brackets = [(18.4, 3.29, 11.6, 'Locomotion', 'right', 10.6),
            (23.9, 3.23, 31.1, 'Sitting', 'left', 31.9),
            (46.5, 3.26, 53.4, 'Lying down', 'left', 54.2)]
for xv, ylow, xend, label, ha, xtext in brackets:
    ax_b.plot([xv, xv, xend], [ylow, 3.71, 3.71], color=ARR, lw=0.8, clip_on=False)
    head = FancyArrowPatch((xend + (0.9 if xend < xv else -0.9), 3.71), (xend, 3.71),
                           arrowstyle='-|>', mutation_scale=13, color='black', lw=0.6,
                           shrinkA=0, shrinkB=0, clip_on=False, transform=ax_b.transData)
    ax_b.add_patch(head)
    ax_b.text(xtext, 3.72, label, ha=ha, va='center', fontsize=15, family=ann_font,
              color='#111111', clip_on=False)

fig.text(fx(22), fy(733), 'Voltage (V)', rotation=90, ha='center', va='center',
         fontsize=12, color=LAB)
fig.text(fx(346), fy(970), 'Time (s)', ha='center', va='center', fontsize=11.5, color=LAB)
fig.text(0.5, fy(992), '(b)', ha='center', va='center', fontsize=12,
         family='Liberation Serif', color='#111111')
fig.add_artist(Line2D([fx(654), fx(654)], [fy(482), fy(977)], color='#cfcfcf', lw=1))

# ---- (c) ----
c_boxes = [(1067, 1137), (1173, 1243), (1279, 1349), (1385, 1455)]
c_label_y = [0.71, 0.71, 0.73, 0.78]
c_axes = []
for i, (sig, (top, bot)) in enumerate(zip([fbg1, fbg2, fbg3, fbg6], c_boxes)):
    ax = fig.add_axes(box(87, top, 634, bot))
    ax.set_facecolor('none')
    t = np.arange(len(sig)) * 0.5
    ax.plot(t, sig, color='#2b7bba', lw=1.2)
    ax.set_xlim(0, 70)
    ax.set_ylim(*fbg_ylims[i])
    ax.set_yticks(fbg_yticks[i])
    ax.set_xticks(range(0, 71, 10))
    style(ax, 10.5, pad=3)
    ax.tick_params(axis='y', pad=6)
    ax.text(0.892, c_label_y[i], fbg_names[i], transform=ax.transAxes, ha='center',
            va='center', fontsize=15, color='#1a1a1a')
    c_axes.append(ax)

trc = mtrans.blended_transform_factory(c_axes[0].transData, fig.transFigure)
fig.patches.append(Rectangle((c_band[0], fy(1455)), c_band[1] - c_band[0],
                             fy(1067) - fy(1455), transform=trc, facecolor='#a9c3e6',
                             edgecolor='none', zorder=-1))

fig.text(fx(412), fy(1031), 'Locomotion on the\nInstrumented Carpet', ha='center',
         va='center', fontsize=15, color='#111111', linespacing=1.0)
fig.add_artist(Line2D([fx(238), fx(289)], [fy(1083), fy(1042)], color=ARR, lw=0.8))
fig.add_artist(FancyArrowPatch((fx(286), fy(1044.5)), (fx(296), fy(1036.5)),
                               transform=fig.transFigure, arrowstyle='-|>',
                               mutation_scale=13, color='black', lw=0.6,
                               shrinkA=0, shrinkB=0))

fig.text(fx(21), fy(1270), 'Force (N)', rotation=90, ha='center', va='center',
         fontsize=11.5, color=LAB)
fig.text(fx(352), fy(1495), 'Time (s)', ha='center', va='center', fontsize=11.5, color=LAB)
fig.text(0.5, fy(1517), '(c)', ha='center', va='center', fontsize=12,
         family='Liberation Serif', color='#111111')

fig.savefig('out.png', dpi=100, facecolor='white')
